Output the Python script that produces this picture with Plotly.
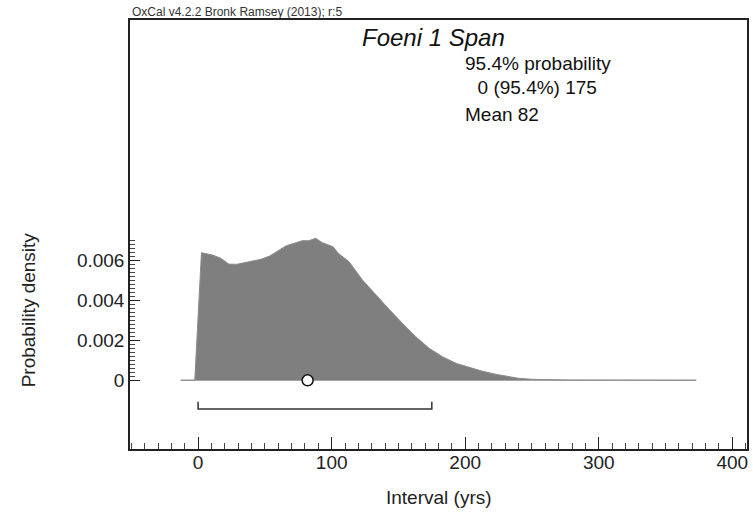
import plotly.graph_objects as go

# Posterior density of "Foeni 1 Span" (interval, years)
interval_yrs = [-13, -2.5, 2.5, 11, 17, 23, 29, 39, 47, 53.5, 60, 66, 72, 78, 83, 88, 93, 101, 105,
                113, 123, 133, 143, 153, 163, 173, 183, 193, 203, 213, 223, 232, 240, 250, 258,
                268, 278, 290, 300, 315, 330, 350, 373]
density = [0, 0, 0.00638, 0.00626, 0.0061, 0.00581, 0.0058, 0.00593, 0.00605, 0.00621, 0.00646,
           0.00673, 0.00685, 0.00698, 0.00698, 0.0071, 0.00688, 0.00668, 0.00635,
           0.00593, 0.00502, 0.00427, 0.00355, 0.00285, 0.00218, 0.0016, 0.00118, 0.00085,
           0.00064, 0.00045, 0.0003, 0.00018, 0.0001, 0.00005, 0.00003,
           0.00002, 0.00001, 0.00001, 0.00001, 0.00002, 0.00001, 0.00001, 0]

mean_value = 82
range_from = 0
range_to = 175
bracket_y = -0.00143
bracket_tick_top = -0.00107

x_major = [0, 100, 200, 300, 400]
x_minor = [v for v in range(-50, 411, 10) if v % 100 != 0]
y_major = [0, 0.002, 0.004, 0.006]
y_major_text = ["0", "0.002", "0.004", "0.006"]
y_minor = [round(i * 0.0002, 4) for i in range(0, 36)]

title_name = "Foeni 1 Span"
info_lines = ["95.4% probability", "  0 (95.4%) 175", "Mean 82"]
header = "OxCal v4.2.2 Bronk Ramsey (2013); r:5"

FONT = "Liberation Sans, Arial, sans-serif"
FS = 19

fig = go.Figure()
# baseline
fig.add_trace(go.Scatter(x=[interval_yrs[0], interval_yrs[-1]], y=[0, 0], mode="lines",
                         line=dict(color="#b4b4b4", width=1.5), hoverinfo="skip"))
# filled density
fig.add_trace(go.Scatter(x=interval_yrs, y=density, mode="lines", fill="tozeroy",
                         fillcolor="#7f7f7f", line=dict(color="#8c8c8c", width=1)))
# bracket for 95.4% range
fig.add_trace(go.Scatter(x=[range_from, range_from, range_to, range_to],
                         y=[bracket_tick_top, bracket_y, bracket_y, bracket_tick_top],
                         mode="lines", line=dict(color="#333333", width=1.5), hoverinfo="skip"))
# mean marker
fig.add_trace(go.Scatter(x=[mean_value], y=[0], mode="markers",
                         marker=dict(symbol="circle", size=11, color="white",
                                     line=dict(color="#111111", width=1.5))))

fig.update_layout(
    width=753, height=517,
    margin=dict(l=130, r=4, t=20, b=68),
    paper_bgcolor="white", plot_bgcolor="white",
    showlegend=False,
    font=dict(family=FONT, size=FS, color="#222222"),
)

fig.update_xaxes(range=[-51, 411], showgrid=False, zeroline=False,
                 showline=True, mirror=True, linecolor="#222222", linewidth=1.5,
                 tickmode="array", tickvals=x_major, ticktext=[str(v) for v in x_major],
                 ticks="inside", ticklen=12, tickwidth=1.2, tickcolor="#222222",
                 ticklabelstandoff=-5,
                 tickfont=dict(size=FS, family=FONT, color="#222222"),
                 minor=dict(tickmode="array", tickvals=x_minor, ticks="inside",
                            ticklen=6, tickwidth=1, tickcolor="#444444"))
fig.update_yaxes(range=[-0.003435, 0.018015], showgrid=False, zeroline=False,
                 showline=True, mirror=True, linecolor="#222222", linewidth=1.5,
                 tickmode="array", tickvals=y_major, ticktext=y_major_text,
                 ticks="inside", ticklen=10, tickwidth=1.2, tickcolor="#222222",
                 tickfont=dict(size=FS, family=FONT, color="#222222"),
                 minor=dict(tickmode="array", tickvals=y_minor, ticks="inside",
                            ticklen=5, tickwidth=1, tickcolor="#444444"))

W, H, L, B = 619.0, 429.0, 130.0, 449.0


def px(x):
    return (x - L) / W


def py(y):
    return (B - y) / H


annotations = [
    dict(text=header, x=px(130), y=py(12), xanchor="left", yanchor="middle",
         font=dict(size=12, family=FONT, color="#333333")),
    dict(text="<i>" + title_name + "</i>", x=px(434), y=py(37), xanchor="center", yanchor="middle",
         font=dict(size=24, family=FONT, color="#111111")),
    dict(text=info_lines[0], x=px(464), y=py(63), xanchor="left", yanchor="middle",
         font=dict(size=FS, family=FONT, color="#111111")),
    dict(text=info_lines[1].replace(" ", "&nbsp;"), x=px(466), y=py(88), xanchor="left", yanchor="middle",
         font=dict(size=FS, family=FONT, color="#111111")),
    dict(text=info_lines[2], x=px(464), y=py(114), xanchor="left", yanchor="middle",
         font=dict(size=FS, family=FONT, color="#111111")),
    dict(text="Probability density", x=px(28), y=py(310), xanchor="center", yanchor="middle",
         textangle=-90, font=dict(size=FS, family=FONT, color="#222222")),
    dict(text="Interval (yrs)", x=px(440), y=py(497), xanchor="center", yanchor="middle",
         font=dict(size=FS, family=FONT, color="#222222")),
]
for a in annotations:
    a.update(xref="paper", yref="paper", showarrow=False)
fig.update_layout(annotations=annotations)

fig.write_html("out.html")
